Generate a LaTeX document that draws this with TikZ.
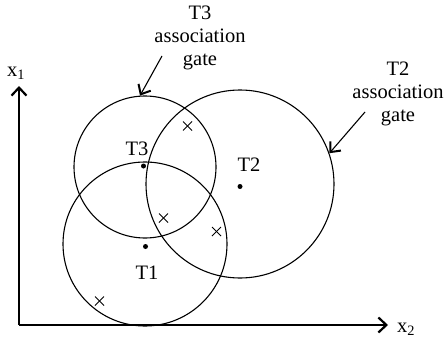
\documentclass[tikz,border=0pt]{standalone}
\usepackage{fontspec}
\setmainfont{Liberation Serif}
\usetikzlibrary{arrows.meta}
\tikzset{
  gate/.style={circle,draw,line width=1.1pt,inner sep=0pt},
  lbl/.style={inner sep=0pt,font=\fontsize{20.5}{23}\selectfont},
  gatelbl/.style={lbl,align=center},
  axisline/.style={line width=1.2pt,-{Straight Barb[length=8pt,width=15pt,line width=2.2pt]}},
  pointer/.style={line width=1.1pt,-{Straight Barb[length=8pt,width=14pt,line width=2pt]}},
  dotmark/.style={circle,fill,inner sep=0pt,minimum size=5pt},
  cross/.style={line width=1pt}
}
\begin{document}
\begin{tikzpicture}[x=1pt,y=-1pt]
\useasboundingbox (0,0) rectangle (445,340);
% axes
\coordinate (o) at (19,325);
\coordinate (yend) at (19,86);
\coordinate (xend) at (388,325);
\draw[axisline] (o) -- (yend);
\draw[axisline] (o) -- (xend);
\node[lbl] (x1) at (16,73) {x\textsubscript{1}};
\node[lbl] (x2) at (406,329) {x\textsubscript{2}};
% gates
\node[gate,minimum size=142pt] (g3) at (145,167) {};
\node[gate,minimum size=164pt] (g1) at (145,244) {};
\node[gate,minimum size=188pt] (g2) at (240,184) {};
% track dots
\node[dotmark] (d3) at (143.5,166) {};
\node[dotmark] (d2) at (240,186.5) {};
\node[dotmark] (d1) at (145.5,246.5) {};
\node[lbl] (t3) at (137,149) {T3};
\node[lbl] (t2) at (249,165) {T2};
\node[lbl] (t1) at (147,273) {T1};
% crosses
\foreach \n/\cx/\cy in {c1/187.5/126, c2/163.5/218, c3/216.5/231.5, c4/99.5/301}{
  \coordinate (\n) at (\cx,\cy);
  \draw[cross] ([shift={(-4.5,-4.5)}]\n) -- ([shift={(4.5,4.5)}]\n);
  \draw[cross] ([shift={(-4.5,4.5)}]\n) -- ([shift={(4.5,-4.5)}]\n);
}
% gate labels
\node[gatelbl] (l3) at (200,38) {T3\\association\\gate};
\node[gatelbl] (l2) at (398,94) {T2\\association\\gate};
\coordinate (p3) at (162,56);
\coordinate (p2) at (365,112);
\draw[pointer] (p3) -- (g3.94);
\draw[pointer] (p2) -- (g2.19);
\end{tikzpicture}
\end{document}
